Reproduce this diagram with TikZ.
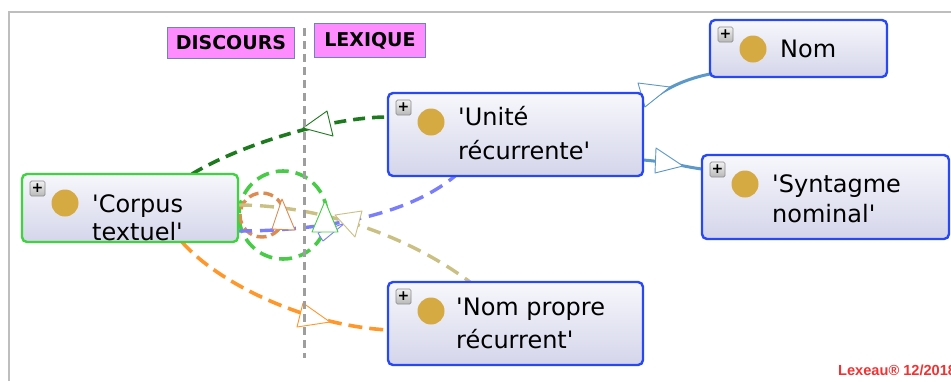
\documentclass[tikz,border=0pt]{standalone}
\usepackage{fontspec}
\setmainfont{DejaVu Sans}[Ligatures=TeXOff]
\newfontfamily\signfont{Liberation Sans}
\usetikzlibrary{calc}
\definecolor{boxtop}{RGB}{247,247,252}
\definecolor{boxbot}{RGB}{212,213,234}
\definecolor{boxblue}{RGB}{40,72,245}
\definecolor{boxgreen}{RGB}{62,212,62}
\definecolor{dgreen}{RGB}{30,122,30}
\definecolor{lgreen}{RGB}{72,204,72}
\definecolor{bluedash}{RGB}{122,126,250}
\definecolor{khaki}{RGB}{202,192,132}
\definecolor{orangedash}{RGB}{255,152,42}
\definecolor{loopor}{RGB}{220,140,80}
\definecolor{steel}{RGB}{92,152,200}
\definecolor{greyline}{RGB}{158,158,158}
\definecolor{golddot}{RGB}{214,170,66}
\definecolor{tagfill}{RGB}{255,140,255}
\definecolor{tagedge}{RGB}{110,130,190}
\definecolor{signred}{RGB}{240,50,50}
\definecolor{framegrey}{RGB}{190,190,190}
\definecolor{plustop}{RGB}{240,240,240}
\definecolor{plusbot}{RGB}{184,184,184}
\definecolor{plusedge}{RGB}{140,140,140}
\pgfdeclarelayer{edges}
\pgfsetlayers{edges,main}
\tikzset{
  onto/.style={draw, rounded corners=5pt, line width=2.4pt, top color=boxtop,
    bottom color=boxbot, inner sep=0pt, outer sep=0pt, anchor=north west},
  ontob/.style={onto, draw=boxblue},
  ontog/.style={onto, draw=boxgreen},
  plusbox/.style={draw=plusedge, line width=0.7pt, rounded corners=1.5pt,
    top color=plustop, bottom color=plusbot, minimum size=15pt, inner sep=0pt,
    font=\fontsize{14}{14}\selectfont\bfseries},
  golddotst/.style={circle, fill=golddot, minimum size=27pt, inner sep=0pt},
  lbl/.style={anchor=base west, inner sep=0pt, font=\fontsize{24}{28}\selectfont},
  tagbox/.style={draw=tagedge, fill=tagfill, line width=0.9pt, inner sep=0pt,
    anchor=north west, font=\fontsize{19}{19}\selectfont\bfseries},
  frame/.style={draw=framegrey, line width=2pt},
  dgreenedge/.style={draw=dgreen, line width=3.6pt, dash pattern=on 12pt off 7pt},
  blueedge/.style={draw=bluedash, line width=3.4pt, dash pattern=on 14pt off 8pt},
  khakiedge/.style={draw=khaki, line width=3.4pt, dash pattern=on 14pt off 8pt},
  orangeedge/.style={draw=orangedash, line width=3.6pt, dash pattern=on 14pt off 7pt},
  steeledge/.style={draw=steel, line width=3pt},
  greenloop/.style={draw=lgreen, line width=3.6pt, dash pattern=on 13pt off 7pt},
  orangeloop/.style={draw=loopor, line width=3.4pt, dash pattern=on 10pt off 5pt},
  tri/.style={fill=white, line width=0.9pt, line join=round},
  divider/.style={draw=greyline, line width=3pt, dash pattern=on 8pt off 5pt},
}
\newcommand\ontodecor[1]{%
  \node[plusbox] (#1-plus) at ($(#1.north west)+(15.5,14.5)$) {+};
  \node[golddotst] (#1-dot) at ($(#1.north west)+(43,29)$) {};
}
\begin{document}
\begin{tikzpicture}[x=1pt,y=-1pt]
\useasboundingbox (0,0) rectangle (951,381);
\clip (0,0) rectangle (951,381);
\begin{pgfonlayer}{edges}
  \fill[white] (0,0) rectangle (951,381);
  \draw[frame] (9,381) -- (9,12) -- (951,12);
\end{pgfonlayer}

% concept boxes
\node[ontog, minimum width=216pt, minimum height=68pt] (corpus) at (22,174) {};
\node[ontob, minimum width=255pt, minimum height=83pt] (unite) at (388,93) {};
\node[ontob, minimum width=177pt, minimum height=57pt] (nom) at (710,20) {};
\node[ontob, minimum width=247pt, minimum height=84pt] (synt) at (702,155) {};
\node[ontob, minimum width=255pt, minimum height=83pt] (nomprop) at (388,282) {};

\ontodecor{corpus}
\ontodecor{unite}
\ontodecor{nom}
\ontodecor{synt}
\ontodecor{nomprop}

\node[lbl] (corpus-l1) at ($(corpus.north west)+(70,38)$) {'Corpus};
\node[lbl] (corpus-l2) at ($(corpus.north west)+(70,66)$) {textuel'};
\node[lbl] (unite-l1) at ($(unite.north west)+(70,32)$) {'Unité};
\node[lbl] (unite-l2) at ($(unite.north west)+(70,66)$) {récurrente'};
\node[lbl] (nom-l1) at ($(nom.north west)+(70,37)$) {Nom};
\node[lbl] (synt-l1) at ($(synt.north west)+(70,37)$) {'Syntagme};
\node[lbl] (synt-l2) at ($(synt.north west)+(70,67)$) {nominal'};
\node[lbl] (nomprop-l1) at ($(nomprop.north west)+(68,33)$) {'Nom propre};
\node[lbl] (nomprop-l2) at ($(nomprop.north west)+(68,66)$) {récurrent'};

% section tags
\node[tagbox, minimum width=127pt, minimum height=31pt] (discours) at (167,27) {DISCOURS};
\node[tagbox, minimum width=111pt, minimum height=34pt] (lexique) at (314,23) {LEXIQUE};

% signature
\node[anchor=base west, inner sep=0pt, text=signred,
  font=\signfont\fontsize{14.6}{14.6}\selectfont\bfseries] (sign) at (838,375) {Lexeau® 12/2018};

\begin{pgfonlayer}{edges}
  % self loops on 'Corpus textuel'
  \coordinate (gloopc) at (283,215);
  \coordinate (oloopc) at (262,215);
  \draw[greenloop] (gloopc) circle[radius=44];
  \draw[orangeloop] (oloopc) circle[radius=22];
  % edges
  \draw[blueedge] ($(corpus.south east)+(0,-11)$) .. controls (300,231) and (400,222) .. ($(unite.south west)+(67,0)$);
  \draw[khakiedge] ($(corpus.north east)+(0,31)$) .. controls (310,205) and (400,230) .. ($(nomprop.north west)+(82,0)$);
  \draw[orangeedge] ($(corpus.south west)+(160,0)$) .. controls (215,280) and (300,325) .. ($(nomprop.north west)+(0,48)$);
  \draw[dgreenedge] ($(corpus.north west)+(170,0)$) .. controls (240,145) and (330,117) .. ($(unite.north west)+(0,24)$);
  \draw[steeledge] ($(unite.north east)+(0,13)$) .. controls (660,92) and (680,80) .. ($(nom.south west)+(0,-3)$);
  \draw[steeledge] ($(unite.south east)+(0,-16)$) .. controls (670,162) and (685,167) .. ($(synt.north west)+(0,14)$);
  % arrow markers
  \draw[tri, draw=bluedash] (318,233) -- (345,223) -- (323,241) -- cycle;
  \draw[tri, draw=khaki] (335,215) -- (362,211) -- (355,237) -- cycle;
  \draw[tri, draw=loopor] (282,199) -- (272,229) -- (295,230) -- cycle;
  \draw[tri, draw=lgreen] (325,201) -- (312,232) -- (338,232) -- cycle;
  \draw[tri, draw=orangedash] (297,327) -- (303,303) -- (330,322) -- cycle;
  \draw[tri, draw=dgreen] (303,128) -- (327,111) -- (333,136) -- cycle;
  \draw[tri, draw=steel] (638,83) -- (670,87) -- (645,107) -- cycle;
  \draw[tri, draw=steel] (656,148) -- (683,166) -- (655,173) -- cycle;
  % DISCOURS / LEXIQUE divider
  \coordinate (divtop) at (304,28);
  \coordinate (divbot) at (304,358);
  \draw[divider] (divtop) -- (divbot);
\end{pgfonlayer}
\end{tikzpicture}
\end{document}
